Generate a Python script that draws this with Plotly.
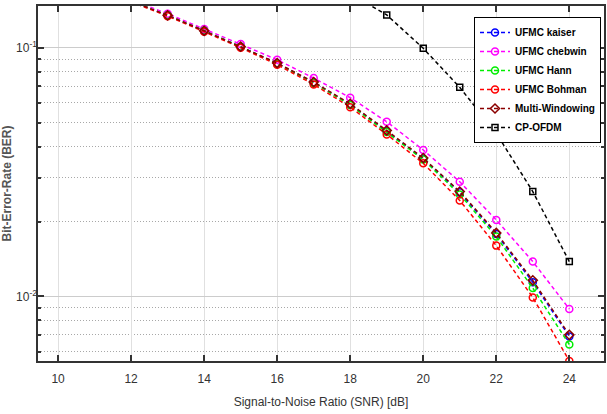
import plotly.graph_objects as go

# SNR sweep (dB)
snr = [10, 11, 12, 13, 14, 15, 16, 17, 18, 19, 20, 21, 22, 23, 24]

# Bit error rate of each scheme
ber_kaiser = [0.195, 0.175, 0.154, 0.135, 0.117, 0.101, 0.0865, 0.0725, 0.0592, 0.0462, 0.0358, 0.0262, 0.0178, 0.0114, 0.0069]
ber_chebwin = [0.197, 0.177, 0.156, 0.137, 0.119, 0.1035, 0.0895, 0.0755, 0.063, 0.0504, 0.0388, 0.0289, 0.0203, 0.0138, 0.0089]
ber_hann = [0.195, 0.175, 0.154, 0.135, 0.117, 0.101, 0.0862, 0.0722, 0.0588, 0.0458, 0.0355, 0.0257, 0.0174, 0.0108, 0.0064]
ber_bohman = [0.194, 0.174, 0.153, 0.134, 0.116, 0.100, 0.0855, 0.0712, 0.0577, 0.0448, 0.0343, 0.0243, 0.0160, 0.0099, 0.0055]
ber_multi = [0.195, 0.175, 0.154, 0.135, 0.117, 0.101, 0.0868, 0.0728, 0.0595, 0.0465, 0.0360, 0.0264, 0.0180, 0.0116, 0.0070]
ber_cpofdm = [0.60, 0.53, 0.46, 0.40, 0.34, 0.29, 0.245, 0.205, 0.165, 0.1355, 0.0995, 0.0693, 0.0453, 0.0264, 0.0138]

x_ticks = [10, 12, 14, 16, 18, 20, 22, 24]
y_ticks = [0.1, 0.01]
y_tick_text = ["10<sup>-1</sup>", "10<sup>-2</sup>"]

SANS = "Liberation Sans Narrow, Arial Narrow, Liberation Sans, Arial, sans-serif"

series = [
    ("UFMC kaiser", ber_kaiser, "#0000ff", "circle-open"),
    ("UFMC chebwin", ber_chebwin, "#ff00ff", "circle-open"),
    ("UFMC Hann", ber_hann, "#00ee00", "circle-open"),
    ("UFMC Bohman", ber_bohman, "#ff0000", "circle-open"),
    ("Multi-Windowing", ber_multi, "#8b0000", "diamond-open"),
    ("CP-OFDM", ber_cpofdm, "#000000", "square-open"),
]

fig = go.Figure()
for name, ber, color, symbol in series:
    fig.add_trace(go.Scatter(
        x=snr, y=ber, name=name, mode="lines+markers",
        line=dict(color=color, width=1.5, dash="4px,3px"),
        marker=dict(symbol=symbol, size=7 if symbol != "square-open" else 6,
                    color=color, line=dict(color=color, width=1.5)),
    ))

fig.update_layout(
    width=607, height=414,
    margin=dict(l=38, r=1, t=6, b=53),
    paper_bgcolor="white", plot_bgcolor="white",
    font=dict(family=SANS, size=12, color="#333333"),
    showlegend=True,
    legend=dict(
        x=0.9947, y=0.969, xanchor="right", yanchor="top",
        bgcolor="white", bordercolor="#000000", borderwidth=1,
        font=dict(family=SANS, size=10, color="#000000", weight="bold"),
        tracegroupgap=0, itemwidth=30,
    ),
    xaxis=dict(
        range=[9.45, 24.95], tickvals=x_ticks,
        showgrid=True, gridcolor="#e0e0e0", gridwidth=1,
        showline=True, linecolor="#333333", linewidth=1.5, mirror="ticks",
        ticks="inside", ticklen=6, tickcolor="#333333", tickwidth=1.5,
        tickfont=dict(family=SANS, size=12, color="#333333"),
        ticklabelstandoff=6,
        title=dict(text="Signal-to-Noise Ratio (SNR) [dB]",
                   font=dict(family=SANS, size=12, color="#333333"), standoff=12),
        zeroline=False,
    ),
    yaxis=dict(
        type="log", range=[-2.26, -0.832],
        tickvals=y_ticks, ticktext=y_tick_text,
        showgrid=True, gridcolor="#cccccc", gridwidth=1,
        showline=True, linecolor="#333333", linewidth=1.5, mirror="ticks",
        ticks="inside", ticklen=6, tickcolor="#333333", tickwidth=1.5,
        tickfont=dict(family=SANS, size=12, color="#333333"),
        ticklabelstandoff=-3,
        minor=dict(dtick="D1", showgrid=True, gridcolor="#a8a8a8", griddash="1px,2px",
                   gridwidth=1, ticks="inside", ticklen=3, tickcolor="#333333"),
        title=dict(text="Bit-Error-Rate (BER)",
                   font=dict(family="Liberation Sans, Arial, sans-serif", size=12,
                             color="#555555", weight="bold"), standoff=4),
        zeroline=False,
    ),
)

fig.write_html("out.html")
